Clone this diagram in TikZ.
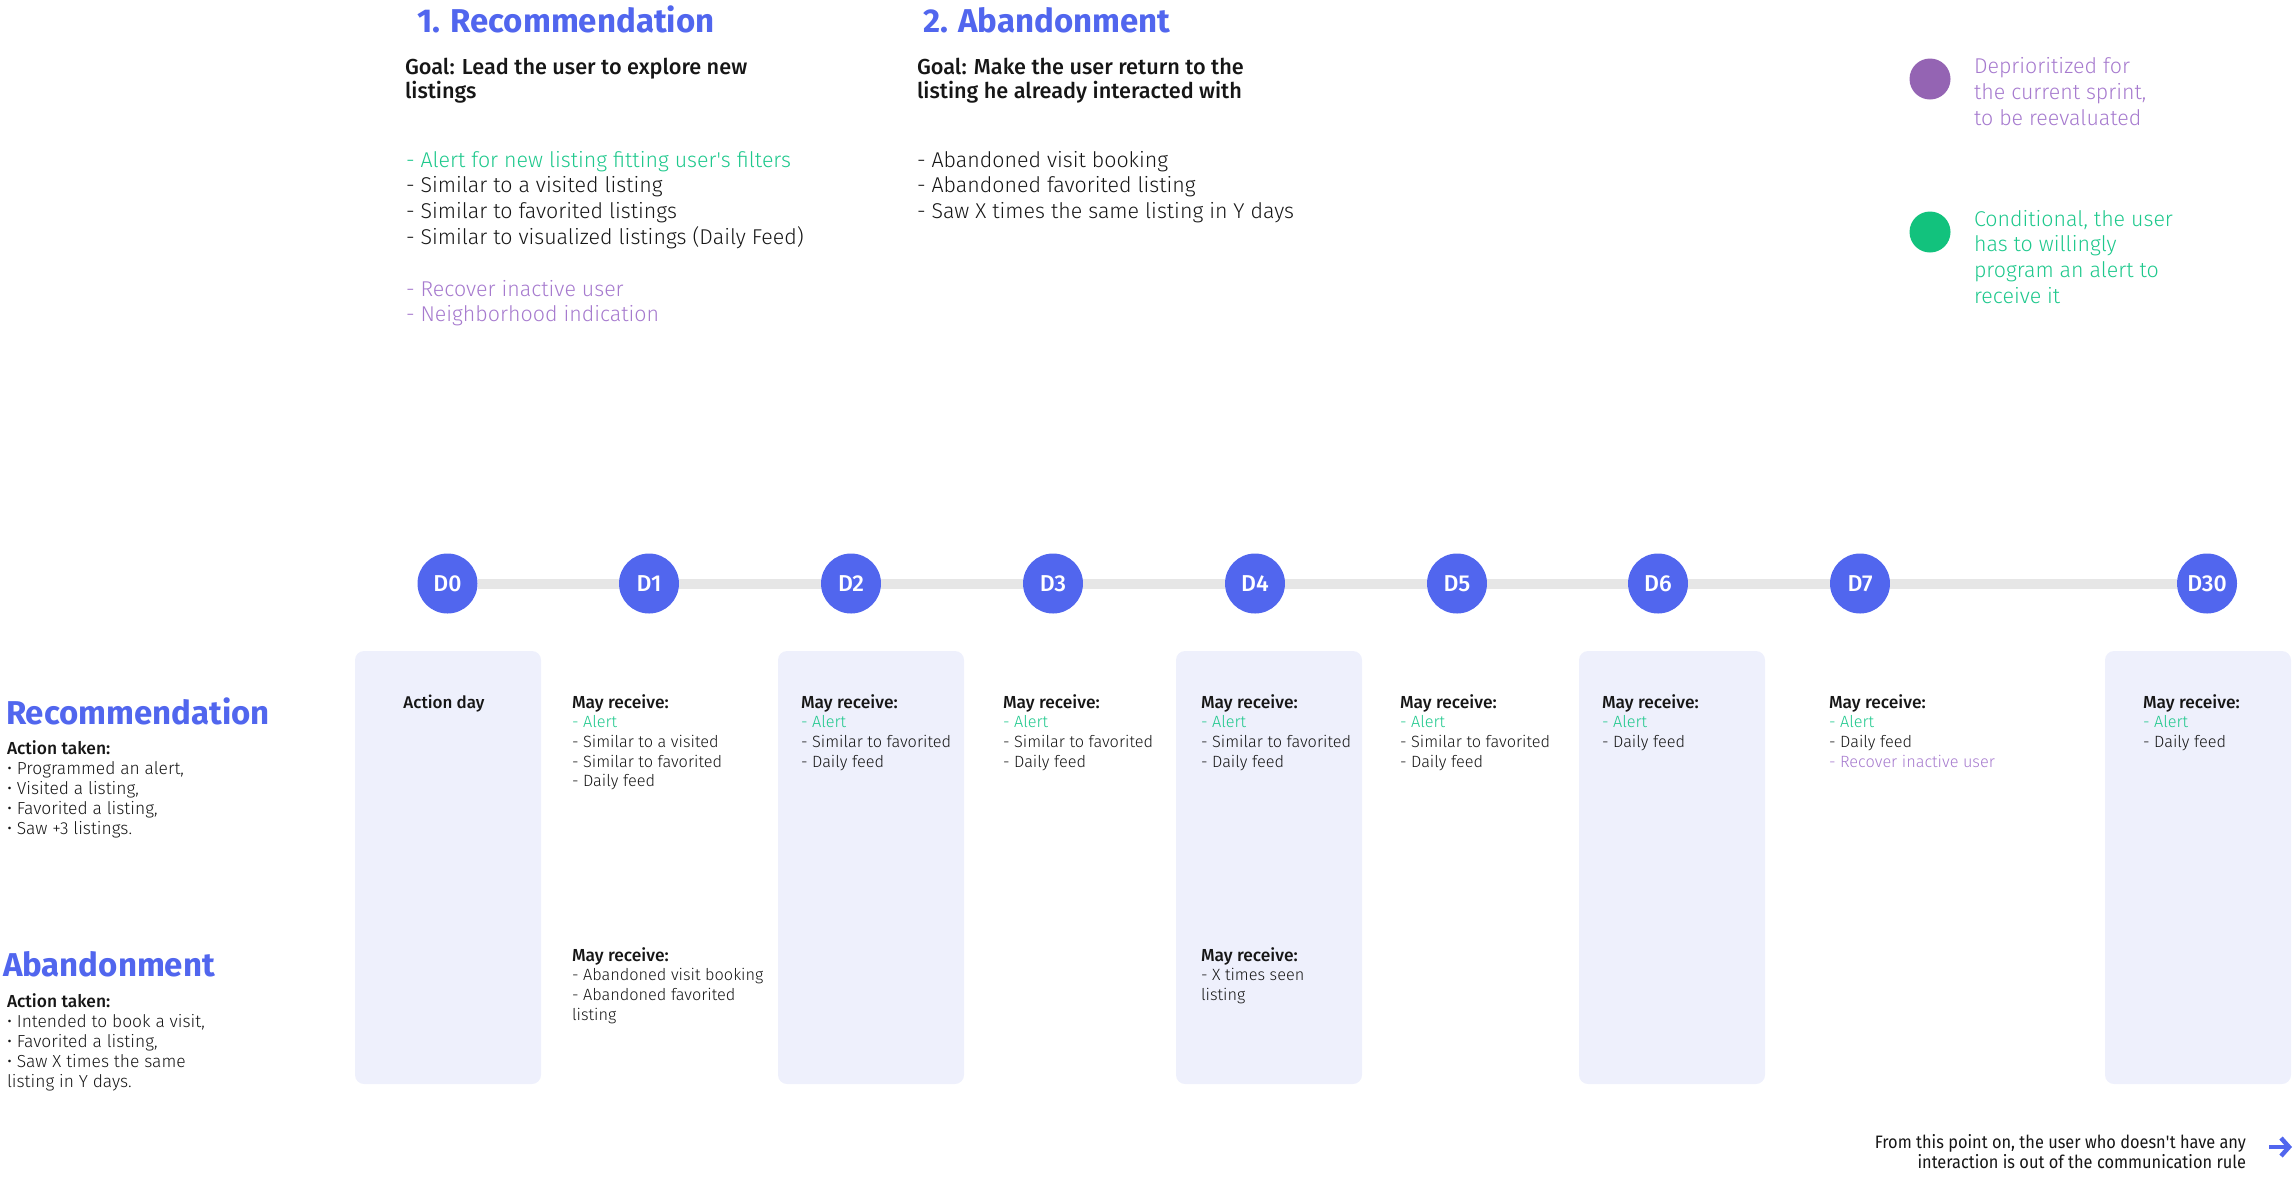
\documentclass[tikz,border=0pt]{standalone}
\usepackage{fontspec}
\setmainfont{Fira Sans Light}
\newfontfamily\fl{Fira Sans Light}
\newfontfamily\fr{Fira Sans}[FakeStretch=0.91]
\newfontfamily\fm{Fira Sans Medium}
\newfontfamily\fb{Fira Sans Bold}
\usetikzlibrary{arrows.meta}
\definecolor{brand}{RGB}{81,102,238}
\definecolor{railgray}{RGB}{230,230,230}
\definecolor{panel}{RGB}{238,240,252}
\definecolor{grn}{RGB}{30,200,140}
\definecolor{grndot}{RGB}{18,194,125}
\definecolor{prp}{RGB}{166,122,206}
\definecolor{prpdot}{RGB}{148,100,179}
\definecolor{ink}{RGB}{22,22,22}
\tikzset{
  tl/.style={anchor=base west, inner sep=0pt, outer sep=0pt, text=ink},
  colfont/.style={font=\fontsize{16.3}{20}\fl},
  leftfont/.style={font=\fontsize{17.4}{20}\fl},
  bigfont/.style={font=\fontsize{21.4}{26}\fl},
  goalfont/.style={font=\fontsize{21.7}{24}\fm},
  headfont/.style={font=\fontsize{17.4}{20}\fm},
  titlefont/.style={font=\fontsize{33}{38}\fb, text=brand},
  day/.style={circle, fill=brand, minimum size=60pt, inner sep=0pt, text=white, font=\fontsize{23}{26}\fm},
  rail/.style={draw=railgray, line width=10pt},
  panelbox/.style={fill=panel, rounded corners=9pt},
  dot/.style={circle, minimum size=41pt, inner sep=0pt},
}
\newcommand\tlines[6][]{%
  \foreach \t [count=\i] in {#6}{%
    \node[tl,#1] (#2\i) at (#3,{#4+#5*(\i-1)}) {\t};}}
\newcommand\mr{{\fontsize{17.4}{20}\fm May receive:}}
\begin{document}
\begin{tikzpicture}[x=1pt,y=-1pt]
\useasboundingbox (0,0) rectangle (2293,1176);

% panels
\fill[panelbox] (355,651) rectangle (541,1084);
\fill[panelbox] (778,651) rectangle (964,1084);
\fill[panelbox] (1176,651) rectangle (1362,1084);
\fill[panelbox] (1579,651) rectangle (1765,1084);
\fill[panelbox] (2105,651) rectangle (2291,1084);

% timeline
\node[day] (d0) at (447.5,583.5) {D0};
\node[day] (d1) at (649,583.5) {D1};
\node[day] (d2) at (851,583.5) {D2};
\node[day] (d3) at (1053,583.5) {D3};
\node[day] (d4) at (1255,583.5) {D4};
\node[day] (d5) at (1457,583.5) {D5};
\node[day] (d6) at (1658,583.5) {D6};
\node[day] (d7) at (1860,583.5) {D7};
\node[day] (d30) at (2207,583.5) {D30};
\draw[rail] (d0) -- (d1);
\draw[rail] (d1) -- (d2);
\draw[rail] (d2) -- (d3);
\draw[rail] (d3) -- (d4);
\draw[rail] (d4) -- (d5);
\draw[rail] (d5) -- (d6);
\draw[rail] (d6) -- (d7);
\draw[rail] (d7) -- (d30);

% titles
\node[tl, titlefont] (t1) at (417,32) {1. Recommendation};
\node[tl, titlefont] (t2) at (923,32) {2. Abandonment};
\tlines[goalfont]{ga}{405}{74}{24}{{Goal: Lead the user to explore new},{listings}}
\tlines[goalfont]{gb}{917}{74}{24}{{Goal: Make the user return to the},{listing he already interacted with}}
\tlines[bigfont]{la}{406}{167}{25.7}{{\color{grn}- Alert for new listing fitting user\textquotesingle s filters},{- Similar to a visited listing},{- Similar to favorited listings},{- Similar to visualized listings (Daily Feed)}}
\tlines[bigfont, text=prp]{lp}{406}{296}{25.7}{{- Recover inactive user},{- Neighborhood indication}}
\tlines[bigfont]{lb}{917}{167}{25.7}{{- Abandoned visit booking},{- Abandoned favorited listing},{- Saw X times the same listing in Y days}}

% legend
\node[dot, fill=prpdot] (lgp) at (1930,79) {};
\node[dot, fill=grndot] (lgg) at (1930,232) {};
\tlines[bigfont, text=prp]{lgpt}{1974}{73}{26}{{Deprioritized for},{the current sprint,},{to be reevaluated}}
\tlines[bigfont, text=grn]{lggt}{1974}{226}{25.7}{{Conditional, the user},{has to willingly},{program an alert to},{receive it}}

% left labels
\node[tl, titlefont] (hrec) at (6,724) {Recommendation};
\tlines[leftfont]{arec}{7}{754}{20}{{\fontsize{17.4}{20}\fm Action taken:},{• Programmed an alert,},{• Visited a listing,},{• Favorited a listing,},{• Saw +3 listings.}}
\node[tl, titlefont] (hab) at (3,976) {Abandonment};
\tlines[leftfont]{aab}{7}{1007}{20}{{\fontsize{17.4}{20}\fm Action taken:},{• Intended to book a visit,},{• Favorited a listing,},{• Saw X times the same},{listing in Y days.}}

% columns - recommendation
\node[tl, anchor=base, font=\fontsize{17}{20}\fm] (c0) at (444,708) {Action day};
\tlines[colfont]{c1r}{572}{708}{19.7}{{\mr},{\color{grn}- Alert},{- Similar to a visited},{- Similar to favorited},{- Daily feed}}
\tlines[colfont]{c2r}{801}{708}{19.7}{{\mr},{\color{grn}- Alert},{- Similar to favorited},{- Daily feed}}
\tlines[colfont]{c3r}{1003}{708}{19.7}{{\mr},{\color{grn}- Alert},{- Similar to favorited},{- Daily feed}}
\tlines[colfont]{c4r}{1201}{708}{19.7}{{\mr},{\color{grn}- Alert},{- Similar to favorited},{- Daily feed}}
\tlines[colfont]{c5r}{1400}{708}{19.7}{{\mr},{\color{grn}- Alert},{- Similar to favorited},{- Daily feed}}
\tlines[colfont]{c6r}{1602}{708}{19.7}{{\mr},{\color{grn}- Alert},{- Daily feed}}
\tlines[colfont]{c7r}{1829}{708}{19.7}{{\mr},{\color{grn}- Alert},{- Daily feed},{\color{prp}- Recover inactive user}}
\tlines[colfont]{c30r}{2143}{708}{19.7}{{\mr},{\color{grn}- Alert},{- Daily feed}}

% columns - abandonment
\tlines[colfont]{c1a}{572}{961}{19.7}{{\mr},{- Abandoned visit booking},{- Abandoned favorited},{listing}}
\tlines[colfont]{c4a}{1201}{961}{19.7}{{\mr},{- X times seen},{listing}}

% footer
\node[tl, anchor=base east, font=\fontsize{18}{21}\fr] (f1) at (2246,1148) {From this point on, the user who doesn\textquotesingle t have any};
\node[tl, anchor=base east, font=\fontsize{18}{21}\fr] (f2) at (2246,1168) {interaction is out of the communication rule};
\coordinate (arA) at (2269,1147);
\coordinate (arB) at (2292,1147);
\draw[brand, line width=4.5pt, -{Straight Barb[length=8pt, width=18pt]}] (arA) -- (arB);
\end{tikzpicture}
\end{document}
